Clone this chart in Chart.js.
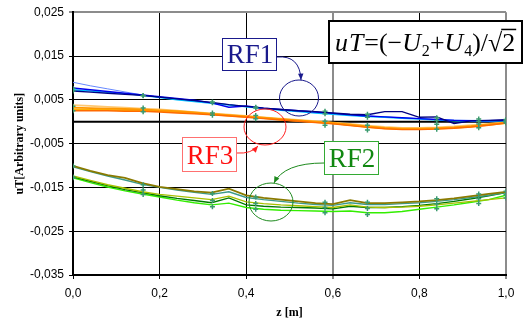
<!DOCTYPE html>
<html>
<head>
<meta charset="utf-8">
<script src="https://cdn.jsdelivr.net/npm/chart.js@4.4.0/dist/chart.umd.min.js"></script>
<style>body{margin:0;background:#fff}</style>
</head>
<body>
<canvas id="chart" width="523" height="320"></canvas>
<script>
// z positions of the simulated curves (m)
var zGrid = [0,0.04,0.08,0.12,0.16,0.2,0.24,0.28,0.32,0.36,0.4,0.44,0.48,0.52,0.56,0.6,0.64,0.68,0.72,0.76,0.8,0.84,0.88,0.92,0.96,1.0];

// RF1 curves
var rf1Navy  = [0.0070,0.00675,0.0065,0.00625,0.0060,0.0056,0.0052,0.0048,0.0044,0.0039,0.0035,0.0031,0.0028,0.0025,0.0023,0.0020,0.0017,0.0016,0.0023,0.0023,0.0010,0.0011,-0.0004,0.0002,0.0003,0.00045];
var rf1Blue  = [0.0077,0.0073,0.0069,0.0065,0.0061,0.0057,0.0053,0.0049,0.0043,0.0033,0.0036,0.0031,0.0028,0.0025,0.0022,0.0019,0.0016,0.0013,0.0011,0.0009,0.0007,0.0005,0.0003,0.0002,0.0002,0.0003];
var rf1Light = [0.0090,0.0082,0.0075,0.0068,0.0061,0.0056,0.0051,0.0047,0.0043,0.0039,0.0034,0.0030,0.0027,0.0024,0.0021,0.0018,0.0015,0.0013,0.0011,0.0009,0.0007,0.0005,0.0004,0.0003,0.0003,0.0003];
var rf1Cyan  = [0.0073,0.0070,0.0067,0.0064,0.0060,0.0055,0.0050,0.0046,0.0042,0.0038,0.0034,0.0030,0.0026,0.0023,0.0020,0.0017,0.0014,0.0012,0.0010,0.0008,0.0006,0.0004,0.0002,0.0001,0.0001,0.0002];

// RF3 curves
var rf3Orange = [0.0032,0.0031,0.0030,0.0029,0.0028,0.0026,0.0024,0.0021,0.0018,0.0015,0.0012,0.0009,0.0006,0.0003,0.0000,-0.0003,-0.0007,-0.0011,-0.0014,-0.0016,-0.0016,-0.0015,-0.0013,-0.0010,-0.0006,-0.0002];
var rf3Light  = [0.0038,0.0036,0.0034,0.0032,0.0030,0.0028,0.0025,0.0022,0.0019,0.0016,0.0013,0.0010,0.0007,0.0004,0.0001,-0.0002,-0.0005,-0.0009,-0.0012,-0.0014,-0.0014,-0.0013,-0.0011,-0.0008,-0.0005,-0.0001];
var rf3Dark   = [0.0025,0.0025,0.0025,0.0024,0.0024,0.0022,0.0020,0.0018,0.0016,0.0013,0.0010,0.0007,0.0004,0.0001,-0.0002,-0.0005,-0.0009,-0.0013,-0.0016,-0.0018,-0.0018,-0.0017,-0.0015,-0.0012,-0.0008,-0.0003];
var rf3Amber  = [0.0028,0.0027,0.0027,0.0026,0.0025,0.0024,0.0022,0.0020,0.0017,0.0014,0.0011,0.0008,0.0005,0.0002,-0.0001,-0.0004,-0.0008,-0.0012,-0.0015,-0.0017,-0.0017,-0.0016,-0.0014,-0.0011,-0.0007,-0.0003];

// RF2 curves
var rf2Olive  = [-0.0101,-0.0112,-0.0122,-0.0128,-0.0140,-0.0149,-0.0154,-0.0159,-0.0162,-0.0153,-0.0168,-0.0174,-0.0178,-0.0182,-0.0186,-0.0188,-0.0179,-0.0186,-0.0186,-0.0184,-0.0182,-0.0179,-0.0175,-0.0170,-0.0165,-0.0160];
var rf2Teal   = [-0.0103,-0.0114,-0.0124,-0.0133,-0.0143,-0.0150,-0.0156,-0.0161,-0.0166,-0.0160,-0.0173,-0.0178,-0.0182,-0.0186,-0.0189,-0.0191,-0.0185,-0.0189,-0.0189,-0.0187,-0.0185,-0.0182,-0.0178,-0.0173,-0.0168,-0.0162];
var rf2Yellow = [-0.0124,-0.0134,-0.0144,-0.0152,-0.0160,-0.0166,-0.0170,-0.0174,-0.0178,-0.0170,-0.0183,-0.0187,-0.0190,-0.0192,-0.0194,-0.0196,-0.0190,-0.0195,-0.0196,-0.0195,-0.0193,-0.0190,-0.0186,-0.0182,-0.0178,-0.0174];
var rf2Green  = [-0.0126,-0.0136,-0.0146,-0.0155,-0.0162,-0.0169,-0.0175,-0.0180,-0.0185,-0.0174,-0.0190,-0.0193,-0.0195,-0.0196,-0.0197,-0.0199,-0.0193,-0.0196,-0.0196,-0.0194,-0.0191,-0.0187,-0.0182,-0.0176,-0.0169,-0.0162];
var rf2Lime   = [-0.0128,-0.0139,-0.0149,-0.0158,-0.0165,-0.0172,-0.0179,-0.0185,-0.0190,-0.0186,-0.0196,-0.0200,-0.0202,-0.0203,-0.0204,-0.0205,-0.0204,-0.0208,-0.0208,-0.0205,-0.0200,-0.0195,-0.0190,-0.0184,-0.0178,-0.0168];

// measured points
var zMeas = [0,0.162,0.322,0.422,0.582,0.68,0.84,0.937,1.0];
var rf1MeasA = [0.0076,0.0060,0.0045,0.0033,0.0024,0.0017,0.0009,0.0006,0.0005];
var rf1MeasB = [0.0070,0.0059,0.0043,0.0031,0.0018,0.0010,0.0003,0.0001,0.0002];
var rf3MeasA = [0.0035,0.0031,0.0020,0.0014,0.0001,-0.0008,-0.0006,-0.0005,-0.0001];
var rf3MeasB = [0.0025,0.0023,0.0015,0.0007,-0.0008,-0.0019,-0.0017,-0.0014,-0.0003];
var rf2MeasA = [-0.0101,-0.0144,-0.0164,-0.0172,-0.0184,-0.0184,-0.0176,-0.0165,-0.0159];
var rf2MeasB = [-0.0126,-0.0156,-0.0180,-0.0187,-0.0196,-0.0198,-0.0188,-0.0176,-0.0167];
var rf2MeasC = [-0.0128,-0.0166,-0.0194,-0.0200,-0.0208,-0.0212,-0.0199,-0.0187,-0.0174];

// zero line
var zeroZ = [0, 1];
var zeroVal = [0, 0];

var xTicks = [0,0.2,0.4,0.6,0.8,1.0];
var yTicks = [-0.035,-0.025,-0.015,-0.005,0.005,0.015,0.025];

function curve(xs, ys, color, w) {
  return {
    data: xs.map(function(z, i) { return {x: z, y: ys[i]}; }),
    borderColor: color, borderWidth: w || 1.4,
    pointRadius: 0, fill: false, tension: 0
  };
}
function marks(ys) {
  return {
    data: zMeas.map(function(z, i) { return {x: z, y: ys[i]}; }),
    showLine: false, pointStyle: 'cross', pointRadius: 2.5,
    borderColor: '#3a9a6e', pointBorderWidth: 1.5
  };
}

var datasets = [
  marks(rf1MeasA), marks(rf1MeasB), marks(rf3MeasA), marks(rf3MeasB),
  marks(rf2MeasA), marks(rf2MeasB), marks(rf2MeasC),
  curve(zGrid, rf1Navy, '#000080'),
  curve(zGrid, rf1Blue, '#0000ee'),
  curve(zGrid, rf1Cyan, '#00bfff'),
  curve(zGrid, rf1Light, '#6688ff', 1),
  curve(zGrid, rf3Dark, '#ff6a00'),
  curve(zGrid, rf3Orange, '#ff9900', 1.8),
  curve(zGrid, rf3Amber, '#ffb000', 1.8),
  curve(zGrid, rf3Light, '#ffc870', 1.8),
  curve(zGrid, rf2Olive, '#8a7a00', 1.8),
  curve(zGrid, rf2Teal, '#3c9a8a'),
  curve(zGrid, rf2Yellow, '#a8c000'),
  curve(zGrid, rf2Green, '#007a00'),
  curve(zGrid, rf2Lime, '#33ee00'),
  curve(zeroZ, zeroVal, '#000000', 2)
];

function comma(v, d) { return v.toFixed(d).replace('.', ','); }

function arrowHead(ctx, x, y, ang, size) {
  ctx.beginPath();
  ctx.moveTo(x, y);
  ctx.lineTo(x - size * Math.cos(ang - 0.4), y - size * Math.sin(ang - 0.4));
  ctx.lineTo(x - size * Math.cos(ang + 0.4), y - size * Math.sin(ang + 0.4));
  ctx.closePath();
  ctx.fill();
}

function tag(ctx, x, y, w, h, text, color, border) {
  ctx.fillStyle = '#fff';
  ctx.fillRect(x, y, w, h);
  ctx.strokeStyle = border;
  ctx.lineWidth = 1;
  ctx.strokeRect(x + 0.5, y + 0.5, w, h);
  ctx.fillStyle = color;
  ctx.font = '27px "Liberation Serif"';
  ctx.textAlign = 'center';
  ctx.textBaseline = 'alphabetic';
  ctx.fillText(text, x + w / 2 + 1, y + h - 7);
}

function callout(ctx, color, x0, y0, cx, cy, x1, y1, ex, ey, rx, ry) {
  ctx.strokeStyle = color;
  ctx.fillStyle = color;
  ctx.lineWidth = 1;
  ctx.beginPath();
  ctx.moveTo(x0, y0);
  ctx.quadraticCurveTo(cx, cy, x1, y1);
  ctx.stroke();
  arrowHead(ctx, x1, y1, Math.atan2(y1 - cy, x1 - cx), 7);
  ctx.beginPath();
  ctx.ellipse(ex, ey, rx, ry, 0, 0, Math.PI * 2);
  ctx.stroke();
}

var formulaParts = [['u','i'],['T','i'],['=(\u2212',''],['U','i'],['2','s'],['+',''],['U','i'],['4','s'],[')/',''],['\u221A',''],['2','r']];

function formula(ctx, x, base, size, draw) {
  var x0 = x;
  formulaParts.forEach(function(p) {
    var sz = p[1] === 's' ? size * 0.62 : size;
    ctx.font = (p[1] === 'i' ? 'italic ' : '') + sz + 'px "Liberation Serif"';
    var y = p[1] === 's' ? base + size * 0.2 : base;
    var w = ctx.measureText(p[0]).width;
    if (draw) {
      ctx.fillText(p[0], x, y);
      if (p[1] === 'r') ctx.fillRect(x - 1, base - size * 0.86, w + 2, 1.5);
    }
    x += w + (p[1] === 'i' ? 1 : 0);
  });
  return x - x0;
}

var notes = {
  id: 'notes',
  beforeDraw: function(chart) {
    var ctx = chart.ctx;
    ctx.save();
    ctx.fillStyle = '#fff';
    ctx.fillRect(0, 0, chart.width, chart.height);
    ctx.restore();
  },
  afterDraw: function(chart) {
    var ctx = chart.ctx;
    ctx.save();
    callout(ctx, '#1a1a8c', 277, 57, 300, 55, 301, 80, 299, 98, 19.5, 18);
    callout(ctx, '#ff2020', 237, 153, 251, 154, 258, 146, 265, 127, 21, 18);
    callout(ctx, '#1e8a1e', 324, 163, 284, 163, 274, 183, 271, 202, 22, 19);
    tag(ctx, 222, 38, 54, 32, 'RF1', '#1a1a8c', '#1a1a8c');
    tag(ctx, 182, 137, 54, 34, 'RF3', '#ff1010', '#ff7070');
    tag(ctx, 324, 141, 54, 33, 'RF2', '#118811', '#33aa33');

    ctx.fillStyle = '#fff';
    ctx.fillRect(328, 20, 194, 43);
    ctx.strokeStyle = '#000';
    ctx.lineWidth = 2;
    ctx.strokeRect(329, 21, 193, 42);
    ctx.fillStyle = '#000';
    ctx.textAlign = 'left';
    ctx.textBaseline = 'alphabetic';
    var size = 28 * 180 / formula(ctx, 0, 0, 28, false);
    formula(ctx, 335, 51, size, true);
    ctx.restore();
  }
};

new Chart(document.getElementById('chart'), {
  type: 'line',
  data: {datasets: datasets},
  plugins: [notes],
  options: {
    responsive: false,
    animation: false,
    layout: {padding: {left: 0, right: 17, top: 10, bottom: 0}},
    plugins: {legend: {display: false}, tooltip: {enabled: false}},
    scales: {
      x: {
        type: 'linear', min: 0, max: 1,
        afterBuildTicks: function(s) { s.ticks = xTicks.map(function(v) { return {value: v}; }); },
        afterFit: function(s) { s.height = 45; },
        ticks: {
          callback: function(v) { return comma(v, 1); },
          color: '#000', font: {family: 'Liberation Sans', size: 12}, padding: 7, maxRotation: 0
        },
        grid: {
          tickLength: 4,
          color: function(c) { return (c.tick && (c.tick.value === 0.6 || c.tick.value === 1)) ? '#8c8c8c' : '#000'; },
          lineWidth: function(c) { return (c.tick && (c.tick.value === 0.6 || c.tick.value === 1)) ? 2 : 1; }
        },
        border: {color: '#000', width: 2},
        title: {
          display: true, text: 'z [m]', color: '#000',
          font: {family: 'Liberation Serif', size: 12, weight: 'bold'}, padding: {top: 0, bottom: 0}
        }
      },
      y: {
        type: 'linear', min: -0.035, max: 0.025,
        afterBuildTicks: function(s) { s.ticks = yTicks.map(function(v) { return {value: v}; }); },
        afterFit: function(s) { s.width = 73; },
        ticks: {
          callback: function(v) { return comma(v, 3); },
          color: '#000', font: {family: 'Liberation Sans', size: 12}, padding: 5
        },
        grid: {
          tickLength: 4,
          color: function(c) { return (c.tick && c.tick.value === 0.025) ? '#8c8c8c' : '#000'; },
          lineWidth: function(c) { return (c.tick && c.tick.value === 0.025) ? 2 : 1; }
        },
        border: {color: '#000', width: 2},
        title: {
          display: true, text: 'uT[Arbitrary units]', color: '#000',
          font: {family: 'Liberation Serif', size: 12, weight: 'bold'}, padding: {top: 13, bottom: 0}
        }
      }
    }
  }
});
</script>
</body>
</html>
